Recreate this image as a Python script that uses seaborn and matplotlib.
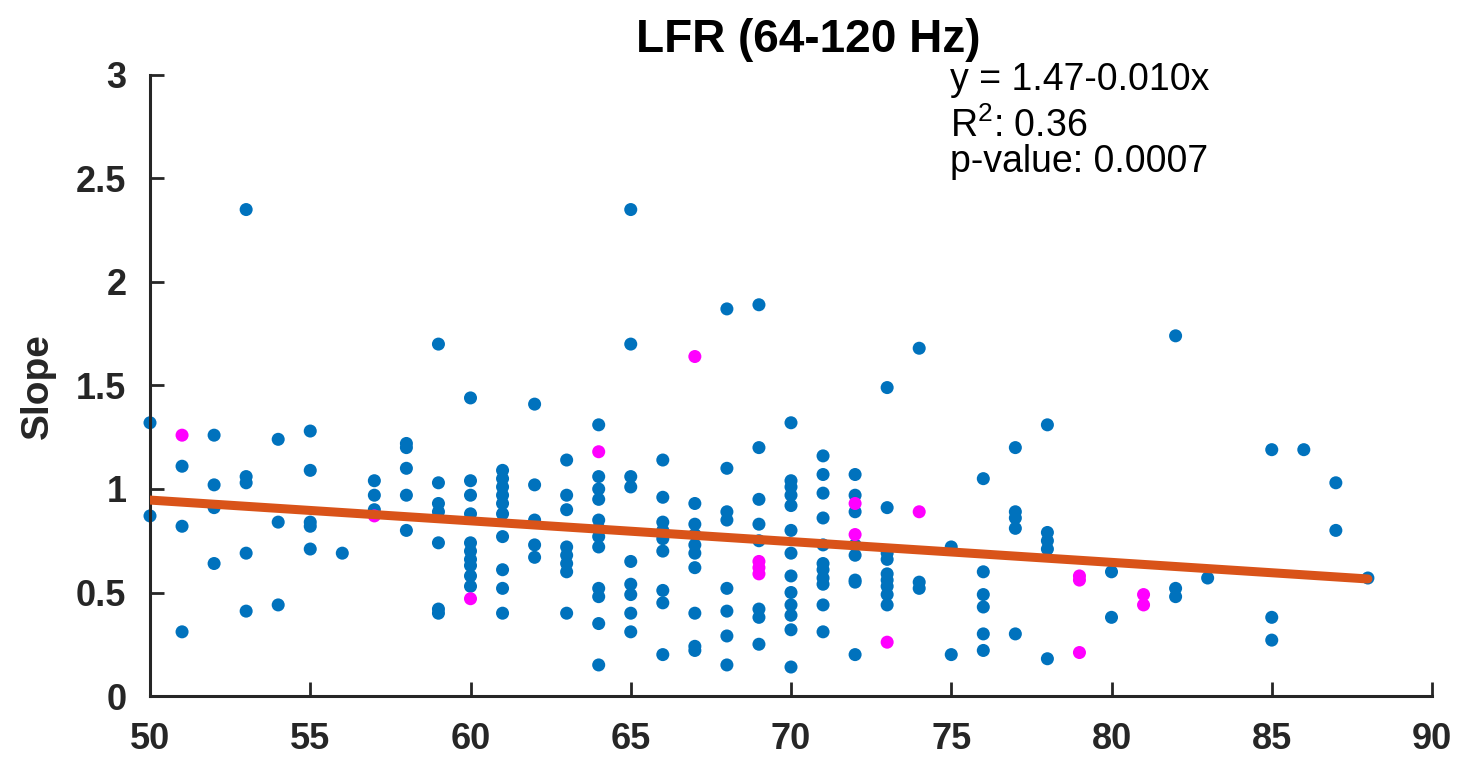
import matplotlib
matplotlib.use("Agg")
import matplotlib.pyplot as plt
import seaborn as sns
import pandas as pd

# ---- data ----
blue_ages = [50, 51, 52, 53, 54, 55, 56, 57, 58, 59, 60, 61, 62, 63, 64, 65, 66, 67, 68, 69,
             70, 71, 72, 73, 74, 75, 76, 77, 78, 80, 82, 83, 85, 86, 87, 88]
blue_slopes = [
    [1.32, 0.87],
    [1.11, 0.82, 0.31],
    [1.26, 1.02, 0.91, 0.64],
    [2.35, 1.06, 1.03, 0.69, 0.41],
    [1.24, 0.84, 0.44],
    [1.28, 1.09, 0.84, 0.82, 0.71],
    [0.69],
    [1.04, 0.97, 0.90],
    [1.22, 1.20, 1.10, 0.97, 0.80],
    [1.70, 1.03, 0.93, 0.89, 0.74, 0.42, 0.40],
    [1.44, 1.04, 0.97, 0.88, 0.74, 0.70, 0.66, 0.63, 0.58, 0.53],
    [1.09, 1.05, 1.01, 0.97, 0.93, 0.88, 0.77, 0.61, 0.52, 0.40],
    [1.41, 1.02, 0.85, 0.73, 0.67],
    [1.14, 0.97, 0.90, 0.72, 0.68, 0.64, 0.60, 0.40],
    [1.31, 1.06, 1.00, 0.95, 0.85, 0.81, 0.77, 0.72, 0.52, 0.48, 0.35, 0.15],
    [2.35, 1.70, 1.06, 1.01, 0.65, 0.54, 0.49, 0.40, 0.31],
    [1.14, 0.96, 0.84, 0.80, 0.76, 0.70, 0.51, 0.45, 0.20],
    [0.93, 0.83, 0.78, 0.73, 0.69, 0.62, 0.40, 0.24, 0.22],
    [1.87, 1.10, 0.89, 0.85, 0.52, 0.41, 0.29, 0.15],
    [1.89, 1.20, 0.95, 0.83, 0.75, 0.42, 0.38, 0.25],
    [1.32, 1.04, 1.01, 0.97, 0.92, 0.80, 0.69, 0.58, 0.50, 0.44, 0.39, 0.32, 0.14],
    [1.16, 1.07, 0.98, 0.86, 0.73, 0.64, 0.61, 0.57, 0.54, 0.44, 0.31],
    [1.07, 0.97, 0.89, 0.73, 0.68, 0.56, 0.55, 0.20],
    [1.49, 0.91, 0.69, 0.66, 0.59, 0.56, 0.53, 0.49, 0.44],
    [1.68, 0.55, 0.52],
    [0.72, 0.20],
    [1.05, 0.60, 0.49, 0.43, 0.30, 0.22],
    [1.20, 0.89, 0.86, 0.81, 0.30],
    [1.31, 0.79, 0.75, 0.71, 0.18],
    [0.60, 0.38],
    [1.74, 0.52, 0.48],
    [0.57],
    [1.19, 0.38, 0.27],
    [1.19],
    [1.03, 0.80],
    [0.57],
]
magenta_ages = [51, 57, 60, 64, 67, 69, 72, 73, 74, 79, 81]
magenta_slopes = [
    [1.26],
    [0.87],
    [0.47],
    [1.18],
    [1.64],
    [0.65, 0.62, 0.59],
    [0.93, 0.78],
    [0.26],
    [0.89],
    [0.58, 0.56, 0.21],
    [0.49, 0.44],
]
fit_intercept = 1.448
fit_slope = -0.01003
fit_x_range = [50, 88]

x_ticks = [50, 55, 60, 65, 70, 75, 80, 85, 90]
y_ticks = [0, 0.5, 1, 1.5, 2, 2.5, 3]
y_tick_labels = ["0", "0.5", "1", "1.5", "2", "2.5", "3"]

title = "LFR (64-120 Hz)"
y_label = "Slope"
stats_lines = ["y = 1.47-0.010x", "R$^2$: 0.36", "p-value: 0.0007"]

# ---- build frames ----
def expand(ages, slopes, grp):
    rows = []
    for a, vals in zip(ages, slopes):
        for v in vals:
            rows.append((a, v, grp))
    return rows

df = pd.DataFrame(expand(blue_ages, blue_slopes, "blue") +
                  expand(magenta_ages, magenta_slopes, "magenta"),
                  columns=["age", "slope", "group"])
fit_df = pd.DataFrame({"age": fit_x_range,
                       "slope": [fit_intercept + fit_slope * a for a in fit_x_range]})

# ---- styling ----
sns.set_style("white")
plt.rcParams["font.family"] = ["Liberation Sans", "DejaVu Sans"]
plt.rcParams["mathtext.fontset"] = "custom"
plt.rcParams["mathtext.rm"] = "Liberation Sans"

BLUE = "#0072BD"
MAGENTA = "#FF00FF"
ORANGE = "#D95319"
AXC = "#262626"

W, H = 1464, 760
fig = plt.figure(figsize=(W / 100, H / 100), dpi=100)
ax = fig.add_axes([150 / W, 1 - 696 / H, (1432 - 150) / W, (696 - 75) / H])

sns.scatterplot(data=df[df.group == "blue"], x="age", y="slope", color=BLUE,
                s=88, edgecolor="none", ax=ax, zorder=2, legend=False, clip_on=False)
sns.scatterplot(data=df[df.group == "magenta"], x="age", y="slope", color=MAGENTA,
                s=88, edgecolor="none", ax=ax, zorder=3, legend=False, clip_on=False)
sns.lineplot(data=fit_df, x="age", y="slope", color=ORANGE, linewidth=6.5,
             ax=ax, zorder=4, legend=False)

ax.set_xlim(50, 90)
ax.set_ylim(0, 3)
ax.set_xticks(x_ticks)
ax.set_xticklabels([str(t) for t in x_ticks])
ax.set_yticks(y_ticks)
ax.set_yticklabels(y_tick_labels)
ax.tick_params(axis="both", which="major", direction="in", length=10, width=2,
               labelsize=26, color=AXC, left=True, bottom=True)
ax.tick_params(axis="x", pad=19)
ax.tick_params(axis="y", pad=17)
for lab in ax.get_xticklabels() + ax.get_yticklabels():
    lab.set_fontweight("bold")
    lab.set_color(AXC)

for side in ["top", "right"]:
    ax.spines[side].set_visible(False)
for side in ["left", "bottom"]:
    ax.spines[side].set_linewidth(2.2)
    ax.spines[side].set_color(AXC)

ax.set_xlabel("")
ax.set_ylabel("")
fig.text(38 / W, 1 - 386 / H, y_label, rotation=90, ha="center", va="center",
         fontsize=28, fontweight="bold", color=AXC)

fig.text(808 / W, 1 - 52 / H, title, ha="center", va="baseline",
         fontsize=33, fontweight="bold", color="black")

baselines = [90, 137, 172]
for line, b in zip(stats_lines, baselines):
    fig.text(950 / W, 1 - b / H, line, ha="left", va="baseline",
             fontsize=27, color="black")

fig.savefig("out.png", dpi=100)
